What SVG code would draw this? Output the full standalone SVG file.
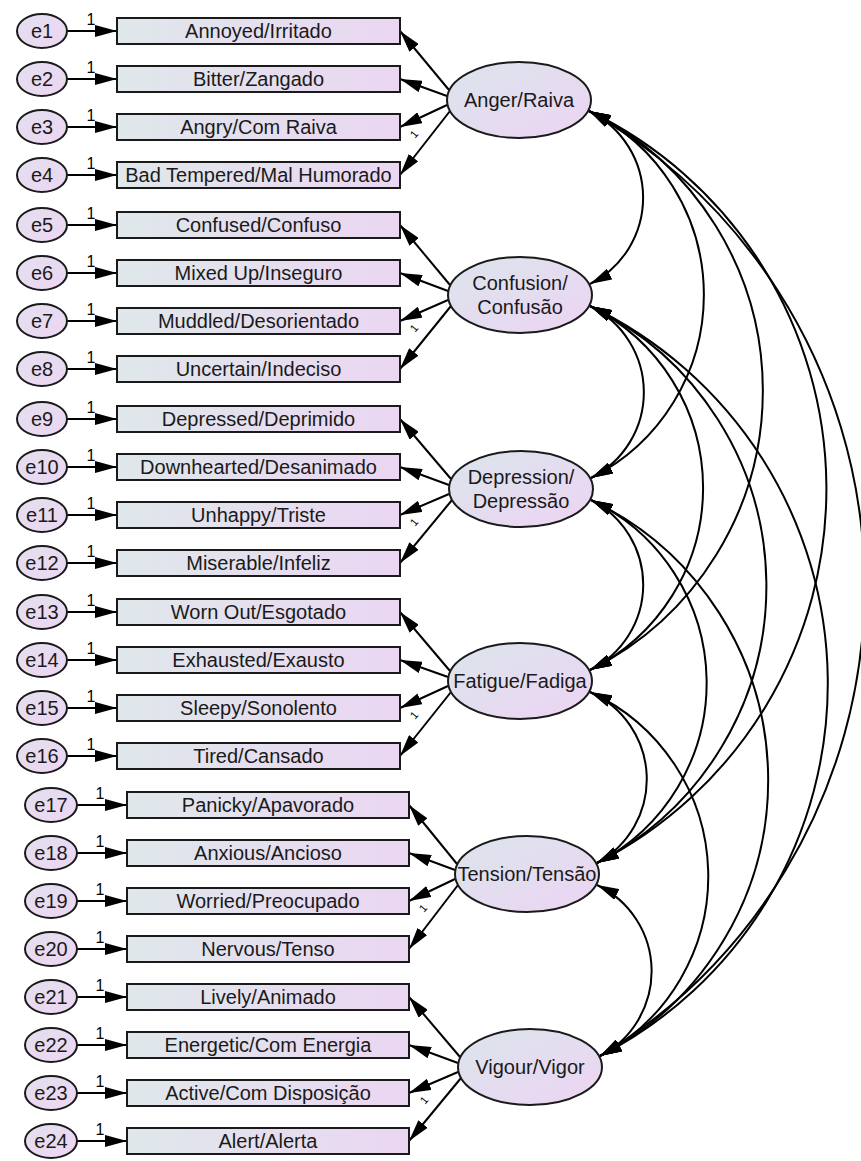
<svg xmlns="http://www.w3.org/2000/svg" width="861" height="1161" viewBox="0 0 861 1161">
<defs>
<linearGradient id="gBox" x1="0" y1="0" x2="1" y2="0"><stop offset="0" stop-color="#dfe8eb"/><stop offset="1" stop-color="#ebd6f2"/></linearGradient>
<linearGradient id="gErr" x1="0" y1="0" x2="1" y2="1"><stop offset="0" stop-color="#e3e0ee"/><stop offset="1" stop-color="#edd5f3"/></linearGradient>
<linearGradient id="gFac" x1="0" y1="0" x2="1" y2="1"><stop offset="0" stop-color="#dbe5ec"/><stop offset="1" stop-color="#edd4f3"/></linearGradient>
<marker id="ah" viewBox="0 0 22 12" refX="22" refY="6" markerWidth="22" markerHeight="12" markerUnits="userSpaceOnUse" orient="auto-start-reverse"><path d="M0,0 L22,6 L0,12 z" fill="#000"/></marker>
</defs>
<style>
text{font-family:"Liberation Sans",Arial,sans-serif;fill:#1a1a1a}
.box{fill:url(#gBox);stroke:#1a1a1a;stroke-width:2}
.err{fill:url(#gErr);stroke:#1a1a1a;stroke-width:2}
.fac{fill:url(#gFac);stroke:#1a1a1a;stroke-width:2}
.lbl{font-size:20px;text-anchor:middle}
.one text{font-size:16px;text-anchor:middle;fill:#000}
.one2 text{font-size:11px;text-anchor:middle;fill:#000}
.c{fill:none;stroke:#000;stroke-width:2;marker-end:url(#ah)}
.cv{fill:none;stroke:#000;stroke-width:2;marker-start:url(#ah);marker-end:url(#ah)}
</style>
<rect width="861" height="1161" fill="#fff"/>

<g id="connectors">
<!-- error to indicator -->
<path class="c" d="M67,31 H117"/><path class="c" d="M67,79 H117"/><path class="c" d="M67,127 H117"/><path class="c" d="M67,175 H117"/>
<path class="c" d="M67,225 H117"/><path class="c" d="M67,273 H117"/><path class="c" d="M67,321 H117"/><path class="c" d="M67,369 H117"/>
<path class="c" d="M67,419 H117"/><path class="c" d="M67,467 H117"/><path class="c" d="M67,515 H117"/><path class="c" d="M67,563 H117"/>
<path class="c" d="M67,612 H117"/><path class="c" d="M67,660 H117"/><path class="c" d="M67,708 H117"/><path class="c" d="M67,756 H117"/>
<path class="c" d="M77,805 H127"/><path class="c" d="M77,853 H127"/><path class="c" d="M77,901 H127"/><path class="c" d="M77,949 H127"/>
<path class="c" d="M77,997 H127"/><path class="c" d="M77,1045 H127"/><path class="c" d="M77,1093 H127"/><path class="c" d="M77,1141 H127"/>
<!-- factor to indicator -->
<path class="c" d="M449,90 L400,31"/><path class="c" d="M447,96 L400,79"/><path class="c" d="M447,105 L400,127"/><path class="c" d="M450,111 L400,175"/>
<path class="c" d="M450,285 L400,225"/><path class="c" d="M448,291 L400,273"/><path class="c" d="M448,300 L400,321"/><path class="c" d="M451,306 L400,369"/>
<path class="c" d="M451,479 L400,419"/><path class="c" d="M449,485 L400,467"/><path class="c" d="M449,494 L400,515"/><path class="c" d="M452,500 L400,563"/>
<path class="c" d="M450,671 L400,612"/><path class="c" d="M448,677 L400,660"/><path class="c" d="M448,686 L400,708"/><path class="c" d="M451,692 L400,756"/>
<path class="c" d="M457,864 L409,805"/><path class="c" d="M455,870 L409,853"/><path class="c" d="M455,879 L409,901"/><path class="c" d="M458,885 L409,949"/>
<path class="c" d="M460,1057 L409,997"/><path class="c" d="M458,1063 L409,1045"/><path class="c" d="M458,1072 L409,1093"/><path class="c" d="M461,1078 L409,1141"/>
<!-- covariances -->
<path class="cv" d="M589,111 A96.6,96.6 0 0 1 590,284"/>
<path class="cv" d="M589,111 A204.8,204.8 0 0 1 591,478"/>
<path class="cv" d="M589,111 A312,312 0 0 1 590,670"/>
<path class="cv" d="M589,111 A419.6,419.6 0 0 1 597,863"/>
<path class="cv" d="M589,111 A548.4,548.4 0 0 1 600,1056"/>
<path class="cv" d="M590,306 A96,96 0 0 1 591,478"/>
<path class="cv" d="M590,306 A203,203 0 0 1 590,670"/>
<path class="cv" d="M590,306 A310.8,310.8 0 0 1 597,863"/>
<path class="cv" d="M590,306 A418.5,418.5 0 0 1 600,1056"/>
<path class="cv" d="M591,500 A94.9,94.9 0 0 1 590,670"/>
<path class="cv" d="M591,500 A202.6,202.6 0 0 1 597,863"/>
<path class="cv" d="M591,500 A310.2,310.2 0 0 1 600,1056"/>
<path class="cv" d="M590,692 A95.4,95.4 0 0 1 597,863"/>
<path class="cv" d="M590,692 A203,203 0 0 1 600,1056"/>
<path class="cv" d="M597,885 A95.4,95.4 0 0 1 600,1056"/>
<!-- fixed loading labels -->
<g class="one">
<text x="91" y="25">1</text><text x="91" y="73">1</text><text x="91" y="121">1</text><text x="91" y="169">1</text>
<text x="91" y="219">1</text><text x="91" y="267">1</text><text x="91" y="315">1</text><text x="91" y="363">1</text>
<text x="91" y="413">1</text><text x="91" y="461">1</text><text x="91" y="509">1</text><text x="91" y="557">1</text>
<text x="91" y="606">1</text><text x="91" y="654">1</text><text x="91" y="702">1</text><text x="91" y="750">1</text>
<text x="100" y="799">1</text><text x="100" y="847">1</text><text x="100" y="895">1</text><text x="100" y="943">1</text>
<text x="100" y="991">1</text><text x="100" y="1039">1</text><text x="100" y="1087">1</text><text x="100" y="1135">1</text>
</g>
<g class="one2">
<text x="414" y="138" transform="rotate(-50 414 134)">1</text>
<text x="414" y="332" transform="rotate(-50 414 328)">1</text>
<text x="414" y="526" transform="rotate(-50 414 522)">1</text>
<text x="414" y="719" transform="rotate(-50 414 715)">1</text>
<text x="423" y="912" transform="rotate(-50 423 908)">1</text>
<text x="424" y="1104" transform="rotate(-50 424 1100)">1</text>
</g>
</g>

<g id="e1"><ellipse class="err" cx="42" cy="31" rx="25" ry="17"/><text class="lbl" x="42" y="38">e1</text></g>
<g id="e2"><ellipse class="err" cx="42" cy="79" rx="25" ry="17"/><text class="lbl" x="42" y="86">e2</text></g>
<g id="e3"><ellipse class="err" cx="42" cy="127" rx="25" ry="17"/><text class="lbl" x="42" y="134">e3</text></g>
<g id="e4"><ellipse class="err" cx="42" cy="175" rx="25" ry="17"/><text class="lbl" x="42" y="182">e4</text></g>
<g id="e5"><ellipse class="err" cx="42" cy="225" rx="25" ry="17"/><text class="lbl" x="42" y="232">e5</text></g>
<g id="e6"><ellipse class="err" cx="42" cy="273" rx="25" ry="17"/><text class="lbl" x="42" y="280">e6</text></g>
<g id="e7"><ellipse class="err" cx="42" cy="321" rx="25" ry="17"/><text class="lbl" x="42" y="328">e7</text></g>
<g id="e8"><ellipse class="err" cx="42" cy="369" rx="25" ry="17"/><text class="lbl" x="42" y="376">e8</text></g>
<g id="e9"><ellipse class="err" cx="42" cy="419" rx="25" ry="17"/><text class="lbl" x="42" y="426">e9</text></g>
<g id="e10"><ellipse class="err" cx="42" cy="467" rx="25" ry="17"/><text class="lbl" x="42" y="474">e10</text></g>
<g id="e11"><ellipse class="err" cx="42" cy="515" rx="25" ry="17"/><text class="lbl" x="42" y="522">e11</text></g>
<g id="e12"><ellipse class="err" cx="42" cy="563" rx="25" ry="17"/><text class="lbl" x="42" y="570">e12</text></g>
<g id="e13"><ellipse class="err" cx="42" cy="612" rx="25" ry="17"/><text class="lbl" x="42" y="619">e13</text></g>
<g id="e14"><ellipse class="err" cx="42" cy="660" rx="25" ry="17"/><text class="lbl" x="42" y="667">e14</text></g>
<g id="e15"><ellipse class="err" cx="42" cy="708" rx="25" ry="17"/><text class="lbl" x="42" y="715">e15</text></g>
<g id="e16"><ellipse class="err" cx="42" cy="756" rx="25" ry="17"/><text class="lbl" x="42" y="763">e16</text></g>
<g id="e17"><ellipse class="err" cx="51" cy="805" rx="26" ry="17"/><text class="lbl" x="51" y="812">e17</text></g>
<g id="e18"><ellipse class="err" cx="51" cy="853" rx="26" ry="17"/><text class="lbl" x="51" y="860">e18</text></g>
<g id="e19"><ellipse class="err" cx="51" cy="901" rx="26" ry="17"/><text class="lbl" x="51" y="908">e19</text></g>
<g id="e20"><ellipse class="err" cx="51" cy="949" rx="26" ry="17"/><text class="lbl" x="51" y="956">e20</text></g>
<g id="e21"><ellipse class="err" cx="51" cy="997" rx="26" ry="17"/><text class="lbl" x="51" y="1004">e21</text></g>
<g id="e22"><ellipse class="err" cx="51" cy="1045" rx="26" ry="17"/><text class="lbl" x="51" y="1052">e22</text></g>
<g id="e23"><ellipse class="err" cx="51" cy="1093" rx="26" ry="17"/><text class="lbl" x="51" y="1100">e23</text></g>
<g id="e24"><ellipse class="err" cx="51" cy="1141" rx="26" ry="17"/><text class="lbl" x="51" y="1148">e24</text></g>

<g id="i1"><rect class="box" x="117" y="18" width="283" height="26"/><text class="lbl" x="258.5" y="38">Annoyed/Irritado</text></g>
<g id="i2"><rect class="box" x="117" y="66" width="283" height="26"/><text class="lbl" x="258.5" y="86">Bitter/Zangado</text></g>
<g id="i3"><rect class="box" x="117" y="114" width="283" height="26"/><text class="lbl" x="258.5" y="134">Angry/Com Raiva</text></g>
<g id="i4"><rect class="box" x="117" y="162" width="283" height="26"/><text class="lbl" x="258.5" y="182">Bad Tempered/Mal Humorado</text></g>
<g id="i5"><rect class="box" x="117" y="212" width="283" height="26"/><text class="lbl" x="258.5" y="232">Confused/Confuso</text></g>
<g id="i6"><rect class="box" x="117" y="260" width="283" height="26"/><text class="lbl" x="258.5" y="280">Mixed Up/Inseguro</text></g>
<g id="i7"><rect class="box" x="117" y="308" width="283" height="26"/><text class="lbl" x="258.5" y="328">Muddled/Desorientado</text></g>
<g id="i8"><rect class="box" x="117" y="356" width="283" height="26"/><text class="lbl" x="258.5" y="376">Uncertain/Indeciso</text></g>
<g id="i9"><rect class="box" x="117" y="406" width="283" height="26"/><text class="lbl" x="258.5" y="426">Depressed/Deprimido</text></g>
<g id="i10"><rect class="box" x="117" y="454" width="283" height="26"/><text class="lbl" x="258.5" y="474">Downhearted/Desanimado</text></g>
<g id="i11"><rect class="box" x="117" y="502" width="283" height="26"/><text class="lbl" x="258.5" y="522">Unhappy/Triste</text></g>
<g id="i12"><rect class="box" x="117" y="550" width="283" height="26"/><text class="lbl" x="258.5" y="570">Miserable/Infeliz</text></g>
<g id="i13"><rect class="box" x="117" y="599" width="283" height="26"/><text class="lbl" x="258.5" y="619">Worn Out/Esgotado</text></g>
<g id="i14"><rect class="box" x="117" y="647" width="283" height="26"/><text class="lbl" x="258.5" y="667">Exhausted/Exausto</text></g>
<g id="i15"><rect class="box" x="117" y="695" width="283" height="26"/><text class="lbl" x="258.5" y="715">Sleepy/Sonolento</text></g>
<g id="i16"><rect class="box" x="117" y="743" width="283" height="26"/><text class="lbl" x="258.5" y="763">Tired/Cansado</text></g>
<g id="i17"><rect class="box" x="127" y="792" width="282" height="26"/><text class="lbl" x="268" y="812">Panicky/Apavorado</text></g>
<g id="i18"><rect class="box" x="127" y="840" width="282" height="26"/><text class="lbl" x="268" y="860">Anxious/Ancioso</text></g>
<g id="i19"><rect class="box" x="127" y="888" width="282" height="26"/><text class="lbl" x="268" y="908">Worried/Preocupado</text></g>
<g id="i20"><rect class="box" x="127" y="936" width="282" height="26"/><text class="lbl" x="268" y="956">Nervous/Tenso</text></g>
<g id="i21"><rect class="box" x="127" y="984" width="282" height="26"/><text class="lbl" x="268" y="1004">Lively/Animado</text></g>
<g id="i22"><rect class="box" x="127" y="1032" width="282" height="26"/><text class="lbl" x="268" y="1052">Energetic/Com Energia</text></g>
<g id="i23"><rect class="box" x="127" y="1080" width="282" height="26"/><text class="lbl" x="268" y="1100">Active/Com Disposição</text></g>
<g id="i24"><rect class="box" x="127" y="1128" width="282" height="26"/><text class="lbl" x="268" y="1148">Alert/Alerta</text></g>

<g id="anger"><ellipse class="fac" cx="519" cy="100" rx="72" ry="38"/><text class="lbl" x="519" y="107">Anger/Raiva</text></g>
<g id="confusion"><ellipse class="fac" cx="520" cy="295" rx="72" ry="38"/><text class="lbl" x="520" y="290">Confusion/</text><text class="lbl" x="520" y="314">Confusão</text></g>
<g id="depression"><ellipse class="fac" cx="521" cy="489" rx="72" ry="38"/><text class="lbl" x="521" y="484">Depression/</text><text class="lbl" x="521" y="508">Depressão</text></g>
<g id="fatigue"><ellipse class="fac" cx="520" cy="681" rx="72" ry="38"/><text class="lbl" x="520" y="688">Fatigue/Fadiga</text></g>
<g id="tension"><ellipse class="fac" cx="527" cy="874" rx="72" ry="38"/><text class="lbl" x="527" y="881">Tension/Tensão</text></g>
<g id="vigour"><ellipse class="fac" cx="530" cy="1067" rx="72" ry="38"/><text class="lbl" x="530" y="1074">Vigour/Vigor</text></g>
</svg>
